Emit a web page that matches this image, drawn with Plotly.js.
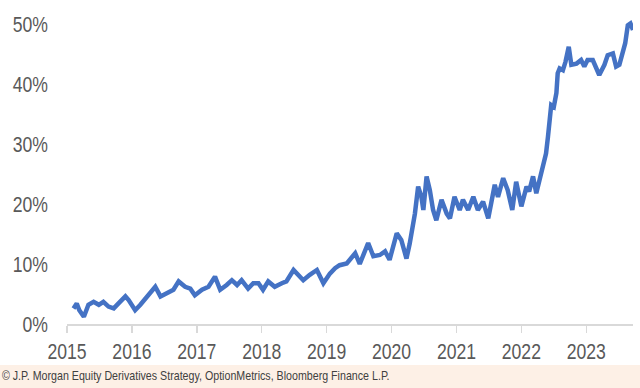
<!DOCTYPE html>
<html>
<head>
<meta charset="utf-8">
<script src="https://cdn.plot.ly/plotly-3.0.1.min.js"></script>
<style>
  html, body { margin: 0; padding: 0; background: #ffffff; }
  #chart { width: 640px; height: 388px; }
</style>
</head>
<body>
<div id="chart"></div>
<script>
// Time in decimal years
const years = [
  2015.10, 2015.15, 2015.19, 2015.26, 2015.33, 2015.41, 2015.49, 2015.56, 2015.64, 2015.72,
  2015.79, 2015.90, 2015.95, 2016.05, 2016.13, 2016.23, 2016.36, 2016.44, 2016.54, 2016.64,
  2016.72, 2016.82, 2016.90, 2016.97, 2017.08, 2017.18, 2017.28, 2017.36, 2017.46, 2017.54,
  2017.62, 2017.69, 2017.79, 2017.87, 2017.95, 2018.02, 2018.10, 2018.20, 2018.31, 2018.38,
  2018.49, 2018.56, 2018.64, 2018.74, 2018.85, 2018.95, 2019.05, 2019.13, 2019.20, 2019.31,
  2019.44, 2019.51, 2019.64, 2019.72, 2019.82, 2019.90, 2019.97, 2020.08, 2020.15, 2020.23,
  2020.28, 2020.36, 2020.41, 2020.46, 2020.49, 2020.54, 2020.59, 2020.64, 2020.69, 2020.77,
  2020.85, 2020.90, 2020.97, 2021.05, 2021.10, 2021.18, 2021.26, 2021.33, 2021.41, 2021.49,
  2021.54, 2021.59, 2021.64, 2021.72, 2021.79, 2021.86, 2021.92, 2022.00, 2022.08, 2022.12,
  2022.18, 2022.23, 2022.28, 2022.33, 2022.38, 2022.41, 2022.44, 2022.46, 2022.50, 2022.54,
  2022.56, 2022.59, 2022.64, 2022.68, 2022.73, 2022.77, 2022.85, 2022.92, 2022.97, 2023.02,
  2023.10, 2023.15, 2023.20, 2023.28, 2023.33, 2023.41, 2023.46, 2023.51, 2023.56, 2023.60,
  2023.64, 2023.68, 2023.72
];
// Series value in percent
const values = [
  2.6, 3.4, 2.3, 1.2, 3.2, 3.7, 3.2, 3.7, 2.9, 2.6,
  3.4, 4.6, 4.0, 2.3, 3.2, 4.6, 6.2, 4.6, 5.1, 5.7,
  7.1, 6.2, 5.9, 4.8, 5.7, 6.2, 7.9, 5.7, 6.5, 7.3,
  6.5, 7.3, 5.9, 6.8, 6.8, 5.7, 7.1, 6.2, 6.8, 7.1,
  9.0, 8.2, 7.3, 8.2, 9.0, 6.8, 8.4, 9.3, 9.8, 10.1,
  11.8, 10.0, 13.5, 11.3, 11.5, 12.1, 10.7, 15.1, 14.0, 10.9,
  13.4, 18.4, 22.9, 21.2, 19.0, 24.6, 22.3, 19.0, 17.3, 20.7,
  18.4, 17.6, 21.2, 19.0, 20.7, 19.0, 21.2, 19.0, 20.4, 17.6,
  20.1, 23.2, 21.2, 24.3, 22.3, 19.0, 23.7, 19.6, 22.9, 22.1,
  24.6, 21.8, 24.0, 26.2, 28.4, 31.2, 35.7, 36.5, 36.2, 38.5,
  41.8, 42.6, 42.3, 43.7, 46.2, 43.2, 43.4, 44.0, 42.9, 44.0,
  44.0, 42.9, 41.5, 43.2, 44.8, 45.1, 42.9, 43.2, 45.4, 46.8,
  49.8, 50.1, 49.0
];
const xTickVals = [2015, 2016, 2017, 2018, 2019, 2020, 2021, 2022, 2023];
const xTickText = ["2015", "2016", "2017", "2018", "2019", "2020", "2021", "2022", "2023"];
const yTickVals = [0, 10, 20, 30, 40, 50];
const yTickText = ["0%", "10%", "20%", "30%", "40%", "50%"];
const sourceText = "© J.P. Morgan Equity Derivatives Strategy, OptionMetrics, Bloomberg Finance L.P.";

const tickFont = { family: "'Liberation Sans', Arial, sans-serif", size: 22, color: "#595959" };

const trace = {
  x: years, y: values, type: "scatter", mode: "lines",
  line: { color: "#4472C4", width: 4.5, shape: "linear" },
  hoverinfo: "skip"
};

const layout = {
  width: 640, height: 388,
  margin: { l: 67, r: 7, t: 12, b: 64, pad: 0 },
  paper_bgcolor: "#ffffff", plot_bgcolor: "#ffffff",
  showlegend: false,
  xaxis: {
    type: "linear", range: [2015, 2023.72],
    tickmode: "array", tickvals: xTickVals, ticktext: xTickText,
    showgrid: false, zeroline: false,
    showline: true, linecolor: "#d9d9d9", linewidth: 1.5,
    ticks: "outside", ticklen: 7, tickcolor: "#d9d9d9", tickwidth: 1.5,
    tickfont: tickFont, ticklabelstandoff: 0
  },
  yaxis: {
    range: [0, 52],
    tickmode: "array", tickvals: yTickVals, ticktext: yTickText,
    showgrid: false, zeroline: false, showline: false, ticks: "",
    tickfont: tickFont, ticklabelstandoff: 18
  },
  shapes: [{
    type: "rect", xref: "paper", yref: "paper",
    x0: -0.2, x1: 1.1, y0: -0.2051, y1: -0.1314,
    fillcolor: "#fdf0e6", line: { width: 0 }, layer: "below"
  }],
  annotations: [{
    xref: "paper", yref: "paper", x: -0.1184, y: -0.168,
    xanchor: "left", yanchor: "middle", showarrow: false,
    text: sourceText,
    font: { family: "'Liberation Sans', Arial, sans-serif", size: 12, color: "#404040" }
  }]
};

// Narrow the text horizontally (the reference uses a condensed face)
function squeeze(el, sx, ax) {
  const tr = el.getAttribute("transform") || "";
  el.setAttribute("transform", tr + " translate(" + ax + ",0) scale(" + sx + ",1) translate(" + (-ax) + ",0)");
}

Plotly.newPlot("chart", [trace], layout, { staticPlot: true, displayModeBar: false }).then(function (gd) {
  gd.querySelectorAll(".xtick text, .ytick text").forEach(function (t) {
    const ax = parseFloat(t.getAttribute("x")) || 0;
    squeeze(t, 0.8, ax);
  });
  gd.querySelectorAll(".annotation-text").forEach(function (t) {
    const bb = t.getBBox();
    const target = 388;
    squeeze(t, Math.min(1, target / bb.width), bb.x - 2);
  });
});
</script>
</body>
</html>
